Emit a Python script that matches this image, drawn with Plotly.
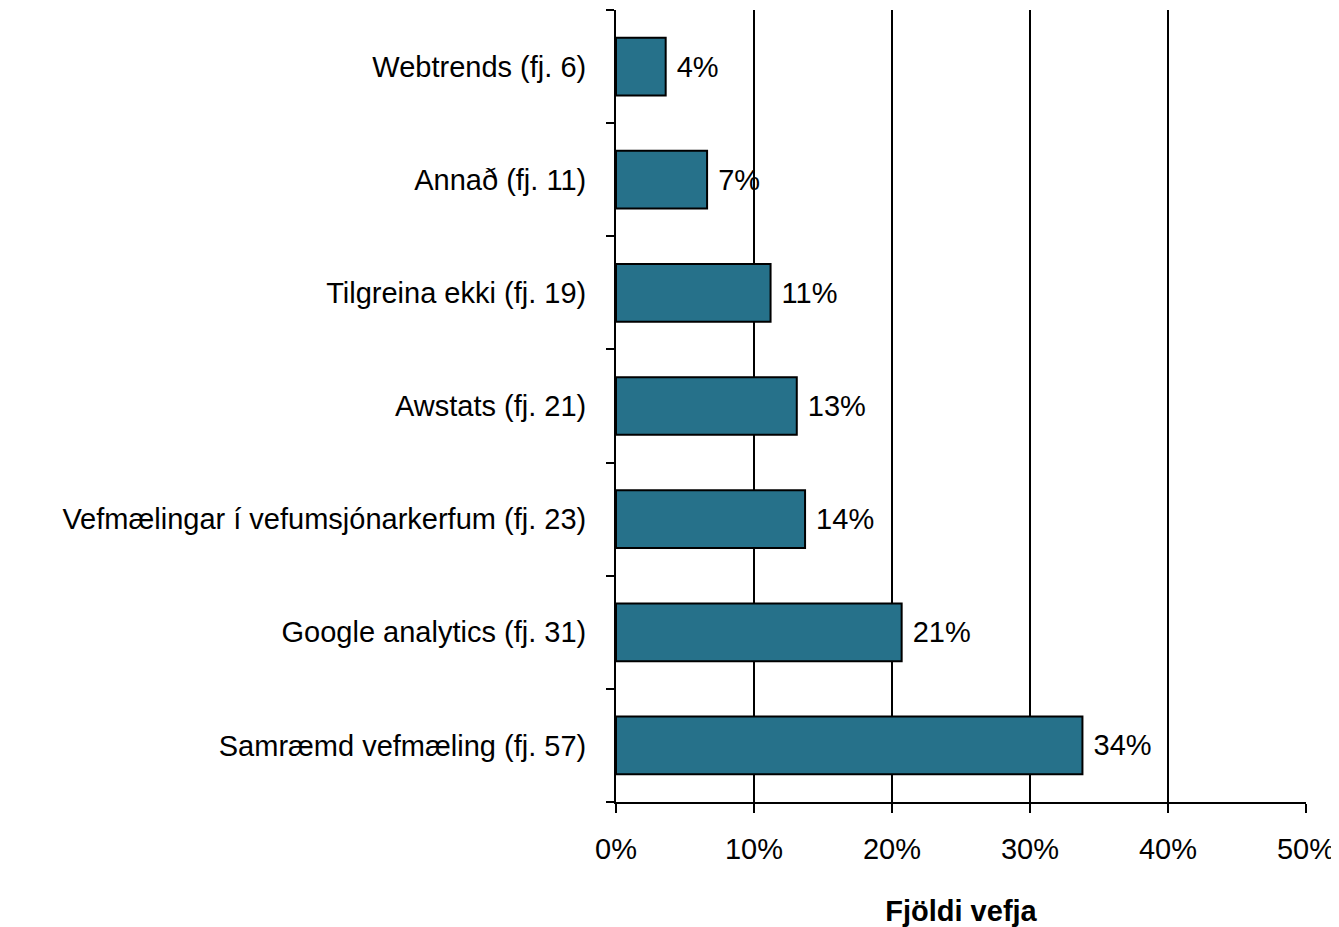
import plotly.graph_objects as go

# categories from bottom to top
categories = [
    "Samræmd vefmæling (fj. 57)",
    "Google analytics (fj. 31)",
    "Vefmælingar í vefumsjónarkerfum (fj. 23)",
    "Awstats (fj. 21)",
    "Tilgreina ekki (fj. 19)",
    "Annað (fj. 11)",
    "Webtrends (fj. 6)",
]
shares = [33.8, 20.7, 13.7, 13.1, 11.2, 6.6, 3.6]
x_ticks = [0, 10, 20, 30, 40, 50]
x_ticktext = [f"{t}%" for t in x_ticks]

FONT = "Liberation Sans, Arial, sans-serif"

fig = go.Figure()
fig.add_trace(go.Bar(
    x=shares,
    y=categories,
    orientation="h",
    width=0.51,
    marker=dict(color="#26718a", line=dict(color="black", width=2)),
    text=[f"\u00a0{v:.0f}%" for v in shares],
    textposition="outside",
    textfont=dict(size=29, color="black", family=FONT),
    cliponaxis=False,
    hoverinfo="x+y",
))

# page body has an 8px margin, so the figure is shrunk to fit the window
fig.update_layout(
    width=1331, height=919,
    margin=dict(l=608, r=33, t=2, b=125),
    plot_bgcolor="white",
    paper_bgcolor="white",
    showlegend=False,
    font=dict(family=FONT, size=29, color="black"),
    xaxis=dict(
        range=[0, 50],
        tickvals=x_ticks,
        ticktext=x_ticktext,
        ticks="outside", ticklen=9, tickwidth=2, tickcolor="black",
        showgrid=True, gridcolor="black", gridwidth=2,
        showline=True, linecolor="black", linewidth=2,
        zeroline=False,
        ticklabelstandoff=11,
        title=dict(text="<b>Fjöldi vefja</b>", standoff=37, font=dict(size=29)),
    ),
    yaxis=dict(
        type="category",
        ticks="outside", tickson="boundaries", ticklen=8, tickwidth=2,
        tickcolor="black",
        showline=True, linecolor="black", linewidth=2,
        showgrid=False, zeroline=False,
        ticklabelstandoff=22,
    ),
)

fig.write_html("out.html")
